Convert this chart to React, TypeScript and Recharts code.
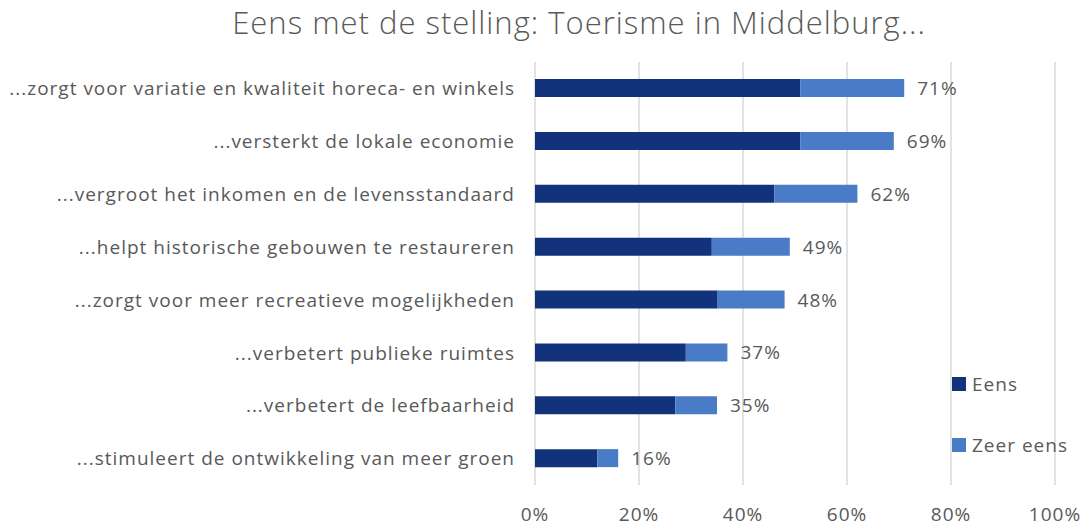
import React from "react";
import {
  BarChart,
  Bar,
  XAxis,
  YAxis,
  CartesianGrid,
  LabelList,
} from "recharts";

// statements, top to bottom
const statements = [
  "...zorgt voor variatie en kwaliteit horeca- en winkels",
  "...versterkt de lokale economie",
  "...vergroot het inkomen en de levensstandaard",
  "...helpt historische gebouwen te restaureren",
  "...zorgt voor meer recreatieve mogelijkheden",
  "...verbetert publieke ruimtes",
  "...verbetert de leefbaarheid",
  "...stimuleert de ontwikkeling van meer groen",
];
const eens = [51, 51, 46, 34, 35, 29, 27, 12];
const zeerEens = [20, 18, 16, 15, 13, 8, 8, 4];
const xTicks = [0, 20, 40, 60, 80, 100];

const DARK = "#12337B";
const LIGHT = "#4A7BC6";
const TEXT = "#595959";
const FONT = "'Open Sans', sans-serif";

const data = statements.map((s, i) => ({
  name: s,
  eens: eens[i],
  zeer: zeerEens[i],
  total: eens[i] + zeerEens[i],
}));

const tickStyle = { fontSize: 19, fill: TEXT, fontFamily: FONT, letterSpacing: 1 };

const TotalLabel = (props: any) => {
  const { x, y, width, height, index } = props;
  return (
    <text
      x={x + width + 13}
      y={y + height / 2}
      dominantBaseline="central"
      fontSize={19}
      letterSpacing={1}
      fill={TEXT}
      fontFamily={FONT}
    >
      {data[index].total}%
    </text>
  );
};

const legendItems = [
  { label: "Eens", color: DARK },
  { label: "Zeer eens", color: LIGHT },
];

export default function App() {
  return (
    <div
      style={{
        position: "absolute",
        left: 0,
        top: 0,
        width: 1089,
        height: 530,
        background: "#fff",
        fontFamily: FONT,
      }}
    >
      <div
        style={{
          position: "absolute",
          left: 129,
          width: 900,
          top: 1,
          textAlign: "center",
          fontSize: 31,
          fontWeight: 300,
          letterSpacing: 1,
          color: TEXT,
        }}
      >
        Eens met de stelling: Toerisme in Middelburg...
      </div>
      <BarChart
        width={1089}
        height={530}
        data={data}
        layout="vertical"
        margin={{ top: 62, right: 34, bottom: 0, left: 0 }}
        barSize={18}
      >
        <CartesianGrid horizontal={false} stroke="#d9d9d9" strokeWidth={1.5} />
        <XAxis
          type="number"
          domain={[0, 100]}
          ticks={xTicks}
          tickFormatter={(v) => `${v}%`}
          axisLine={false}
          tickLine={false}
          tickMargin={17}
          tick={tickStyle}
          height={45}
          interval={0}
        />
        <YAxis
          type="category"
          dataKey="name"
          width={535}
          axisLine={false}
          tickLine={false}
          tickSize={0}
          tickMargin={20}
          tick={tickStyle}
          interval={0}
        />
        <Bar dataKey="eens" name="Eens" stackId="a" fill={DARK} isAnimationActive={false} />
        <Bar dataKey="zeer" name="Zeer eens" stackId="a" fill={LIGHT} isAnimationActive={false}>
          <LabelList content={<TotalLabel />} />
        </Bar>
      </BarChart>
      <div
        style={{
          position: "absolute",
          left: 952,
          top: 372,
          fontSize: 19,
          letterSpacing: 1,
          color: TEXT,
        }}
      >
        {legendItems.map((item, i) => (
          <div
            key={item.label}
            style={{ display: "flex", alignItems: "center", height: 24, marginTop: i ? 37 : 0 }}
          >
            <span style={{ width: 14, height: 14, background: item.color, marginRight: 6 }} />
            {item.label}
          </div>
        ))}
      </div>
    </div>
  );
}
